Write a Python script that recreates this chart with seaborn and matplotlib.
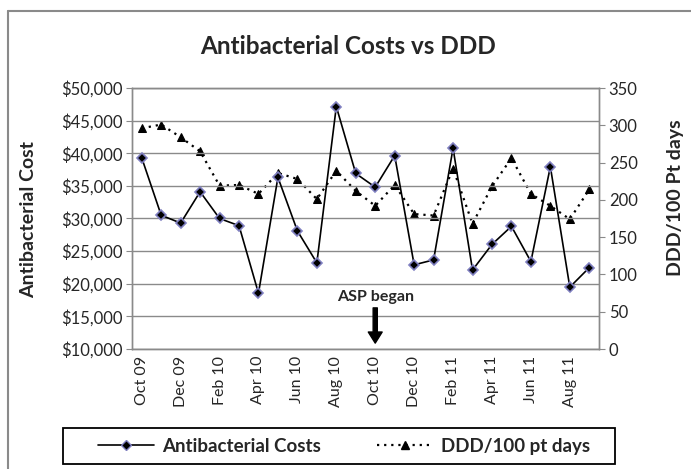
import matplotlib
matplotlib.use("Agg")
import matplotlib.pyplot as plt
import matplotlib.ticker as mticker
from matplotlib.lines import Line2D
from matplotlib.patches import Rectangle
import pandas as pd
import seaborn as sns

# monthly data, Oct 09 - Sep 11
months = ['Oct 09', 'Nov 09', 'Dec 09', 'Jan 10', 'Feb 10', 'Mar 10', 'Apr 10', 'May 10',
          'Jun 10', 'Jul 10', 'Aug 10', 'Sep 10', 'Oct 10', 'Nov 10', 'Dec 10', 'Jan 11',
          'Feb 11', 'Mar 11', 'Apr 11', 'May 11', 'Jun 11', 'Jul 11', 'Aug 11', 'Sep 11']
costs = [39300, 30500, 29300, 34100, 30000, 28900, 18550, 36300, 28100, 23200, 47150, 36900,
         34800, 39640, 22900, 23660, 40770, 22100, 26030, 28800, 23400, 37940, 19480, 22470]
ddd = [296, 301, 284, 265, 219, 220, 208, 236, 228, 201, 239, 212,
       192, 220, 181, 179, 242, 168, 218, 256, 208, 192, 174, 214]

df = pd.DataFrame({'idx': range(len(months)), 'month': months, 'cost': costs, 'ddd': ddd})

sns.set_style('white')
plt.rcParams['font.family'] = ['Lato', 'DejaVu Sans']

W, H = 691, 469
fig = plt.figure(figsize=(W / 100, H / 100), dpi=100)
ax = fig.add_axes([132 / W, 1 - 349 / H, (599 - 132) / W, (349 - 88) / H])
ax2 = ax.twinx()

grey = '#8a8a8a'

# DDD line (right axis)
sns.lineplot(data=df, x='idx', y='ddd', ax=ax2, color='black', linestyle=(0, (1, 2.2)),
             linewidth=1.6, marker='^', markersize=6, markeredgecolor='black', legend=False)
# cost line (left axis)
sns.lineplot(data=df, x='idx', y='cost', ax=ax, color='black', linewidth=1.2,
             marker='D', markersize=5.5, markerfacecolor='black', markeredgecolor='#7f7fc0',
             markeredgewidth=1.2, legend=False)
ax.set_zorder(ax2.get_zorder() + 1)
ax.patch.set_visible(False)

ax.set_ylim(10000, 50000)
ax.set_xlim(-0.5, len(months) - 0.5)
ax.yaxis.set_major_locator(mticker.MultipleLocator(5000))
ax.yaxis.set_major_formatter(mticker.FuncFormatter(lambda v, p: '${:,.0f}'.format(v)))
ax2.set_ylim(0, 350)
ax2.yaxis.set_major_locator(mticker.MultipleLocator(50))

ax.set_xticks(df['idx'][::2])
ax.set_xticklabels(df['month'][::2], rotation=90, fontsize=11.5)
ax.set_xticks([i - 0.5 for i in range(len(months) + 1)], minor=True)
ax.tick_params(axis='x', which='major', length=0, pad=5)
ax.tick_params(axis='x', which='minor', length=5, color=grey, direction='in')
ax.tick_params(axis='y', length=4, color=grey, labelsize=12, pad=3)
ax2.tick_params(axis='y', length=4, color=grey, labelsize=12, pad=3)

ax.grid(axis='y', color=grey, linewidth=1)
for a in (ax, ax2):
    for s in a.spines.values():
        s.set_color(grey)
        s.set_linewidth(1)

ax.set_xlabel('')
ax.set_ylabel('')
ax2.set_ylabel('')
fig.text(29 / W, 1 - 219 / H, 'Antibacterial Cost', rotation=90, ha='center', va='center',
         fontsize=14, fontweight='bold')
fig.text(676 / W, 1 - 198 / H, 'DDD/100 Pt days', rotation=90, ha='center', va='center',
         fontsize=14, fontweight='bold')

fig.text(348 / W, 1 - 47 / H, 'Antibacterial Costs vs DDD', ha='center', va='center',
         fontsize=17.5, fontweight='bold')

# ASP start marker
ax.text(12, 17950, 'ASP began', ha='center', va='center', fontsize=11.5, fontweight='bold')
ax.annotate('', xy=(12, 10900), xytext=(12, 16300),
            arrowprops=dict(facecolor='black', edgecolor='black', width=3, headwidth=10,
                            headlength=8))

# chart border
fig.add_artist(Line2D([8 / W, 8 / W], [0, 1 - 11 / H], transform=fig.transFigure,
                      color=grey, linewidth=1.5))
fig.add_artist(Line2D([8 / W, 1], [1 - 11 / H, 1 - 11 / H], transform=fig.transFigure,
                      color=grey, linewidth=1.5))

# legend box
fig.add_artist(Rectangle((63 / W, 1 - 464 / H), (615 - 63) / W, 36 / H,
                         transform=fig.transFigure, facecolor='white', edgecolor='black',
                         linewidth=1.3))
handles = [
    Line2D([], [], color='black', linewidth=1.2, marker='D', markersize=5,
           markerfacecolor='black', markeredgecolor='#7f7fc0'),
    Line2D([], [], color='black', linestyle=(0, (1, 2.2)), linewidth=1.6, marker='^',
           markersize=5.5, markeredgecolor='black'),
]
leg = fig.legend(handles, ['Antibacterial Costs', 'DDD/100 pt days'], loc='center',
                 bbox_to_anchor=(344 / W, 1 - 446 / H), ncol=2, frameon=False,
                 handlelength=3.0, handletextpad=0.4, columnspacing=3.0,
                 prop={'weight': 'bold', 'size': 13.5})
leg.set_zorder(5)

fig.savefig('out.png', dpi=100)
